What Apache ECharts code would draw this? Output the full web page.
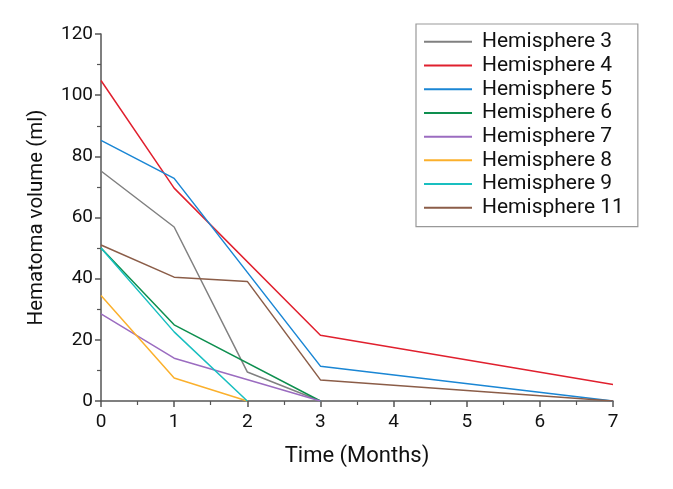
<!DOCTYPE html>
<html><head><meta charset="utf-8">
<script src="https://cdn.jsdelivr.net/npm/echarts@6/dist/echarts.min.js"></script>
<style>html,body{margin:0;padding:0;background:#fff}#c{width:673px;height:489px}</style>
</head><body><div id="c"></div>
<script>
const seriesNames = ['Hemisphere 3','Hemisphere 4','Hemisphere 5','Hemisphere 6','Hemisphere 7','Hemisphere 8','Hemisphere 9','Hemisphere 11'];
const colors = ['#808080','#e0202e','#1a86d4','#0e8f4f','#9b6cc0','#fbb02c','#19bfc0','#8b5d48'];
const h3 = [[0,75.2],[1,56.9],[2,9.5],[3,0],[3.72,0]];
const h4 = [[0,104.8],[1,69.6],[3,21.5],[7,5.4]];
const h5 = [[0,85.2],[1,72.8],[3,11.4],[7,0]];
const h6 = [[0,50],[1,24.9],[3,0]];
const h7 = [[0,28.5],[1,14],[3,0]];
const h8 = [[0,34.5],[1,7.5],[2,0]];
const h9 = [[0,50],[1,22.6],[2,0]];
const h11 = [[0,51],[1,40.5],[2,39.1],[3,6.9],[7,0]];
const allData = [h3,h4,h5,h6,h7,h8,h9,h11];
const xTicks = [0,1,2,3,4,5,6,7];
const yTicks = [0,20,40,60,80,100,120];

const chart = echarts.init(document.getElementById('c'));
const axisCol = '#555';
const font = 'Roboto';
chart.setOption({
  animation:false,
  textStyle:{fontFamily:font},
  grid:{left:101,right:60,top:34,bottom:88},
  legend:{
    orient:'vertical', left:416, top:24,
    borderColor:'#999', borderWidth:1.2, padding:[6,14,7,8],
    icon:'rect', itemWidth:48, itemHeight:2, itemGap:0,
    textStyle:{fontSize:21, color:'#111', fontFamily:font, lineHeight:23.7, padding:[0,0,0,5]},
    data: seriesNames
  },
  xAxis:{
    type:'value', min:xTicks[0], max:xTicks[xTicks.length-1], interval:1,
    name:'Time (Months)', nameLocation:'middle', nameGap:44,
    nameTextStyle:{fontSize:22, color:'#111'},
    axisLine:{show:true, lineStyle:{color:axisCol, width:1.5}},
    axisTick:{show:true, length:6, lineStyle:{color:axisCol, width:1.5}},
    minorTick:{show:true, splitNumber:2, length:4, lineStyle:{color:axisCol, width:1.2}},
    axisLabel:{fontSize:19, color:'#111', margin:12},
    splitLine:{show:false}
  },
  yAxis:{
    type:'value', min:yTicks[0], max:yTicks[yTicks.length-1], interval:20,
    name:'Hematoma volume (ml)', nameLocation:'middle', nameGap:54,
    nameTextStyle:{fontSize:20.5, color:'#111'},
    axisLine:{show:true, lineStyle:{color:axisCol, width:1.5}},
    axisTick:{show:true, length:6, lineStyle:{color:axisCol, width:1.5}},
    minorTick:{show:true, splitNumber:2, length:4, lineStyle:{color:axisCol, width:1.2}},
    axisLabel:{fontSize:19, color:'#111', margin:8},
    splitLine:{show:false}
  },
  series: seriesNames.map((n,i)=>({
    name:n, type:'line', data:allData[i], symbol:'none',
    lineStyle:{color:colors[i], width:1.5}, itemStyle:{color:colors[i]}
  }))
});
</script></body></html>
